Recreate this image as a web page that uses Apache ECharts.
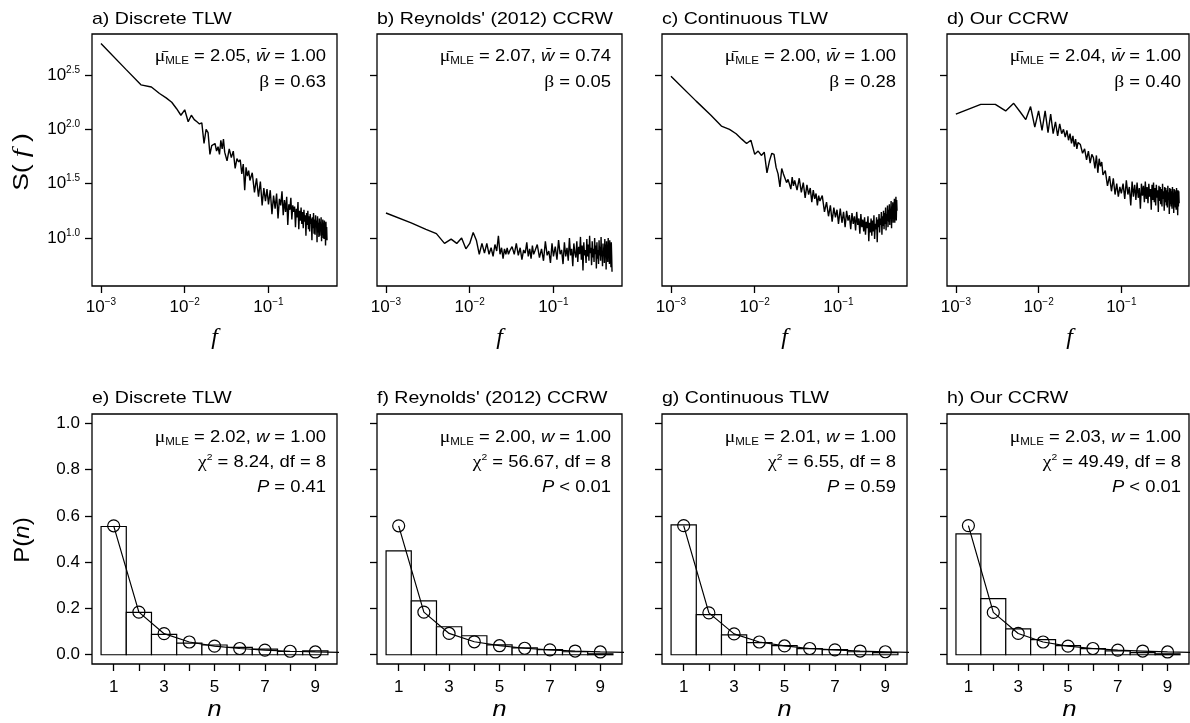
<!DOCTYPE html>
<html><head><meta charset="utf-8">
<script src="https://cdn.jsdelivr.net/npm/echarts@6/dist/echarts.min.js"></script>
<style>html,body{margin:0;padding:0;background:#fff}#c{width:1190px;height:723px}</style>
</head><body><div id="c"></div>
<script>
// ---------- DATA ----------
const titlesTop = ['a) Discrete TLW', "b) Reynolds' (2012) CCRW", 'c) Continuous TLW', 'd) Our CCRW'];
const titlesBottom = ['e) Discrete TLW', "f) Reynolds' (2012) CCRW", 'g) Continuous TLW', 'h) Our CCRW'];

// frequency index k (f = k / 1000)
const freqK = [1,2,3,4,5,6,7,8,9,10,11,12,13,14,15,16,17,18,19,20,21,22,23,24,25,26,27,28,29,30,
32,34,36,38,40,42,44,46,48,50,52,54,56,58,60,
64,68,72,76,80,84,88,92,96,100,
105,110,115,120,125,130,135,140,145,150,
155,160,165,170,175,180,185,190,195,200,
205,210,215,220,225,230,235,240,245,250,
255,260,265,270,275,280,285,290,295,300,
305,310,315,320,325,330,335,340,345,350,
355,360,365,370,375,380,385,390,395,400,
405,410,415,420,425,430,435,440,445,450,
455,460,465,470,475,480,485,490,495,500];

// log10 S(f) for each top panel
const logS_a = [2.79,2.55,2.41,2.39,2.33,2.29,2.25,2.19,2.13,2.18,2.07,2.13,2.09,2.07,2.05,2.06,1.87,2.00,1.97,1.77,1.85,1.84,1.87,1.80,1.84,1.77,1.90,1.82,1.91,1.79,
1.71,1.82,1.74,1.80,1.64,1.73,1.70,1.72,1.59,1.68,1.44,1.65,1.57,1.62,1.53,
1.60,1.42,1.55,1.38,1.52,1.30,1.46,1.34,1.45,1.31,
1.44,1.22,1.39,1.27,1.41,1.18,1.36,1.30,1.43,1.21,
1.35,1.24,1.38,1.12,1.31,1.26,1.37,1.17,1.30,1.24,
1.29,1.10,1.27,1.19,1.33,1.08,1.25,1.16,1.28,1.13,
1.24,1.09,1.26,1.15,1.21,1.02,1.23,1.12,1.25,1.08,
1.20,1.06,1.22,1.13,1.18,0.98,1.19,1.09,1.23,1.04,
1.17,1.03,1.21,1.10,1.16,0.96,1.20,1.05,1.14,1.01,
1.18,1.02,1.15,1.07,1.19,0.97,1.13,1.04,1.17,1.00,
1.14,0.99,1.16,1.04,1.12,0.93,1.15,1.02,1.10,0.98];

const logS_b = [1.23,1.14,1.08,1.04,0.95,0.99,0.95,1.00,0.90,0.95,1.05,0.98,0.85,0.95,0.86,0.95,0.85,0.91,0.83,0.94,0.88,1.02,0.85,0.91,0.81,0.90,0.85,0.91,0.85,0.88,
0.92,0.85,0.95,0.84,0.91,0.80,0.89,0.86,0.96,0.83,0.90,0.81,0.93,0.85,0.88,
0.94,0.82,0.90,0.79,0.97,0.84,0.88,0.77,0.95,0.83,
0.92,0.80,0.98,0.85,0.89,0.76,0.96,0.83,0.91,0.79,
1.00,0.84,0.90,0.74,0.95,0.86,0.82,0.97,0.78,0.92,
0.85,1.01,0.80,0.93,0.70,0.96,0.84,0.89,0.77,0.99,
0.83,0.94,0.79,1.02,0.86,0.91,0.75,0.97,0.82,0.90,
0.78,1.00,0.85,0.93,0.72,0.96,0.81,0.89,0.76,0.98,
0.84,0.92,0.79,1.01,0.83,0.88,0.74,0.95,0.86,0.91,
0.77,0.99,0.82,0.94,0.71,0.97,0.85,0.90,0.78,1.00,
0.83,0.93,0.76,0.98,0.80,0.92,0.73,0.96,0.84,0.69];

const logS_c = [2.49,2.26,2.13,2.03,2.00,1.96,1.91,1.87,1.90,1.77,1.80,1.76,1.79,1.60,1.71,1.78,1.77,1.65,1.59,1.47,1.64,1.59,1.60,1.51,1.54,1.53,1.45,1.56,1.48,1.53,
1.44,1.55,1.42,1.51,1.37,1.49,1.40,1.46,1.33,1.44,1.36,1.41,1.30,1.39,1.34,
1.39,1.24,1.33,1.20,1.30,1.15,1.28,1.19,1.26,1.13,
1.27,1.14,1.24,1.10,1.25,1.16,1.21,1.08,1.23,1.13,
1.20,1.07,1.24,1.12,1.18,1.04,1.22,1.10,1.17,1.06,
1.19,1.03,1.15,1.09,1.20,0.97,1.14,1.05,1.18,1.02,
1.16,1.06,1.21,0.99,1.13,1.08,1.19,0.96,1.17,1.10,
1.22,1.05,1.18,1.12,1.24,1.03,1.20,1.11,1.25,1.08,
1.23,1.13,1.28,1.07,1.22,1.16,1.30,1.10,1.26,1.15,
1.31,1.12,1.27,1.19,1.34,1.09,1.29,1.18,1.33,1.14,
1.30,1.21,1.36,1.14,1.32,1.23,1.38,1.16,1.35,1.25];

const logS_d = [2.14,2.23,2.23,2.17,2.24,2.16,2.09,2.21,2.02,2.17,1.99,2.17,1.97,2.14,1.96,2.07,1.94,2.05,1.96,2.00,1.93,1.99,1.90,1.96,1.87,1.94,1.84,1.91,1.82,1.88,
1.86,1.78,1.82,1.72,1.80,1.69,1.77,1.74,1.64,1.76,1.60,1.73,1.66,1.70,1.58,
1.62,1.48,1.57,1.43,1.55,1.40,1.50,1.38,1.47,1.41,
1.50,1.36,1.53,1.40,1.47,1.30,1.52,1.38,1.49,1.35,
1.51,1.37,1.46,1.27,1.50,1.39,1.48,1.33,1.52,1.36,
1.47,1.32,1.50,1.38,1.45,1.26,1.49,1.35,1.51,1.33,
1.46,1.30,1.49,1.37,1.44,1.24,1.48,1.34,1.47,1.31,
1.45,1.29,1.50,1.36,1.43,1.25,1.47,1.33,1.46,1.30,
1.44,1.28,1.48,1.35,1.42,1.22,1.46,1.31,1.45,1.29,
1.43,1.27,1.47,1.34,1.41,1.23,1.45,1.30,1.44,1.28,
1.42,1.26,1.46,1.33,1.40,1.21,1.44,1.29,1.43,1.32];

const spectra = [logS_a, logS_b, logS_c, logS_d];

// tick labels (log10 units)
const fTicks = [-3, -2, -1];
const sTicks = [1.0, 1.5, 2.0, 2.5];
const nTicks = [1,2,3,4,5,6,7,8,9];
const nLabels = [1,3,5,7,9];
const pTicks = [0, 0.2, 0.4, 0.6, 0.8, 1.0];

// bottom panels
const nVals = [1,2,3,4,5,6,7,8,9,10];
const obs_e = [0.554,0.183,0.088,0.050,0.042,0.032,0.024,0.014,0.017];
const obs_f = [0.449,0.233,0.121,0.082,0.043,0.030,0.022,0.013,0.004];
const obs_g = [0.561,0.173,0.086,0.052,0.039,0.026,0.022,0.013,0.009];
const obs_h = [0.522,0.242,0.112,0.065,0.039,0.026,0.017,0.009,0.004];
const fit_e = [0.557,0.184,0.091,0.055,0.037,0.027,0.020,0.015,0.012,0.010];
const fit_f = [0.557,0.184,0.092,0.056,0.039,0.028,0.021,0.016,0.012,0.010];
const fit_g = [0.558,0.181,0.090,0.055,0.038,0.027,0.021,0.016,0.013,0.010];
const fit_h = [0.558,0.183,0.092,0.055,0.037,0.027,0.020,0.016,0.012,0.010];
const observed = [obs_e, obs_f, obs_g, obs_h];
const fitted = [fit_e, fit_f, fit_g, fit_h];

// annotations
const muBar = ['2.05', '2.07', '2.00', '2.04'];
const wBar = ['1.00', '0.74', '1.00', '1.00'];
const betas = ['0.63', '0.05', '0.28', '0.40'];
const muFit = ['2.02', '2.00', '2.01', '2.03'];
const wFit = ['1.00', '1.00', '1.00', '1.00'];
const chi2 = ['8.24', '56.67', '6.55', '49.49'];
const dfs = ['8', '8', '8', '8'];
const pText = ['= 0.41', '< 0.01', '= 0.59', '< 0.01'];

// ---------- LAYOUT / STYLE ----------
const SANS = 'Liberation Sans', SERIF = 'Liberation Serif';
const cols = [92, 377, 662, 947];
const widths = [245, 245, 245, 242];
const TOP1 = 34, H1 = 252, TOP2 = 414, H2 = 250;
const LW = 1.3;
const tickStyle = {show: true, inside: false, length: 7, lineStyle: {color: '#000', width: LW}};
const tickRich = {
  b: {fontFamily: SANS, fontSize: 17, lineHeight: 20, color: '#000'},
  s: {fontFamily: SANS, fontSize: 10, lineHeight: 13, verticalAlign: 'top', color: '#000'}
};
const annRich = {
  t: {fontFamily: SANS, fontSize: 16, lineHeight: 20, fill: '#000'},
  g: {fontFamily: SERIF, fontSize: 17, lineHeight: 20, fill: '#000'},
  it: {fontFamily: SANS, fontStyle: 'italic', fontSize: 16, lineHeight: 20, fill: '#000'},
  sub: {fontFamily: SANS, fontSize: 10, lineHeight: 2, verticalAlign: 'bottom', fill: '#000'},
  sup: {fontFamily: SANS, fontSize: 9, lineHeight: 14, verticalAlign: 'top', fill: '#000'}
};

const grids = [], xAxes = [], yAxes = [], series = [], graphics = [];

function txt(x, y, rich, text, align, scaleX, extra) {
  return Object.assign({type: 'text', x: x, y: y, scaleX: scaleX || 1, silent: true,
    style: {text: text, rich: rich, align: align, textAlign: align, verticalAlign: 'middle', textVerticalAlign: 'middle',
      fontFamily: SANS, fontSize: 16, fill: '#000'}}, extra || {});
}

for (let c = 0; c < 4; c++) {
  // ----- top row -----
  let gi = grids.length;
  grids.push({left: cols[c], top: TOP1, width: widths[c], height: H1, show: true, borderColor: '#000', borderWidth: LW,
    backgroundColor: 'transparent', containLabel: false, outerBoundsMode: 'none'});
  xAxes.push({type: 'value', gridIndex: gi, min: -3.107, max: -0.182,
    axisLine: {show: false, onZero: false}, splitLine: {show: false},
    axisTick: Object.assign({customValues: fTicks}, tickStyle),
    axisLabel: {customValues: fTicks, margin: 11, formatter: v => '{b|10}{s|\u2212' + Math.abs(v) + '}', rich: tickRich}});
  yAxes.push({type: 'value', gridIndex: gi, min: 0.558, max: 2.878,
    axisLine: {show: false, onZero: false}, splitLine: {show: false},
    axisTick: Object.assign({customValues: sTicks}, tickStyle),
    axisLabel: {show: c === 0, customValues: sTicks, margin: 12, formatter: v => '{b|10}{s|' + v.toFixed(1) + '}', rich: tickRich}});
  series.push({type: 'line', xAxisIndex: gi, yAxisIndex: gi, silent: true, animation: false,
    data: freqK.map((k, j) => [Math.log10(k / 1000), spectra[c][j]]),
    showSymbol: false, symbol: 'none', lineStyle: {color: '#000', width: 1.4}});

  // ----- bottom row -----
  gi = grids.length;
  grids.push({left: cols[c], top: TOP2, width: widths[c], height: H2, show: true, borderColor: '#000', borderWidth: LW,
    backgroundColor: 'transparent', containLabel: false, outerBoundsMode: 'none'});
  xAxes.push({type: 'value', gridIndex: gi, min: 0.14, max: 9.86,
    axisLine: {show: false, onZero: false}, splitLine: {show: false},
    axisTick: Object.assign({customValues: nTicks}, tickStyle),
    axisLabel: {customValues: nLabels, margin: 13, fontFamily: SANS, fontSize: 17, lineHeight: 20, color: '#000'}});
  yAxes.push({type: 'value', gridIndex: gi, min: -0.04, max: 1.04,
    axisLine: {show: false, onZero: false}, splitLine: {show: false},
    axisTick: Object.assign({customValues: pTicks}, tickStyle),
    axisLabel: {show: c === 0, customValues: pTicks, margin: 12, fontFamily: SANS, fontSize: 17, color: '#000',
      formatter: v => v.toFixed(1)}});
  series.push({type: 'custom', xAxisIndex: gi, yAxisIndex: gi, silent: true, animation: false, clip: true,
    data: observed[c].map((v, j) => [nVals[j], v]), encode: {x: 0, y: 1},
    renderItem: (params, api) => {
      const n = api.value(0), v = api.value(1);
      const a = api.coord([n - 0.5, v]), b = api.coord([n + 0.5, 0]);
      return {type: 'rect', shape: {x: a[0], y: a[1], width: b[0] - a[0], height: b[1] - a[1]},
        style: {fill: '#fff', stroke: '#000', lineWidth: 1.2}};
    }});
  series.push({type: 'line', xAxisIndex: gi, yAxisIndex: gi, silent: true, animation: false, clip: true, z: 5,
    data: fitted[c].map((v, j) => j < 9 ? [nVals[j], v] : {value: [nVals[j], v], symbol: 'none'}),
    symbol: 'circle', symbolSize: 12, showSymbol: true, showAllSymbol: true,
    itemStyle: {color: 'transparent', borderColor: '#000', borderWidth: 1.2},
    lineStyle: {color: '#000', width: 1.2}});

  // ----- texts -----
  const right = cols[c] + 234;
  graphics.push(txt(cols[c], 19, {}, titlesTop[c], 'left', 1.15, {style: {text: titlesTop[c], fontFamily: SANS, fontSize: 17, fill: '#000', align: 'left', verticalAlign: 'middle'}}));
  graphics.push(txt(cols[c], 398, {}, titlesBottom[c], 'left', 1.15, {style: {text: titlesBottom[c], fontFamily: SANS, fontSize: 17, fill: '#000', align: 'left', verticalAlign: 'middle'}}));
  graphics.push(txt(right, 56.5, annRich, '{g|\u03bc\u0304}{sub|MLE}{t| = ' + muBar[c] + ', }{it|w\u0304}{t| = ' + wBar[c] + '}', 'right', 1.15));
  graphics.push(txt(right, 83, annRich, '{g|\u03b2}{t| = ' + betas[c] + '}', 'right', 1.15));
  graphics.push(txt(right, 437.5, annRich, '{g|\u03bc}{sub|MLE}{t| = ' + muFit[c] + ', }{it|w}{t| = ' + wFit[c] + '}', 'right', 1.15));
  graphics.push(txt(right, 463, annRich, '{g|\u03c7}{sup|2}{t| = ' + chi2[c] + ', df = ' + dfs[c] + '}', 'right', 1.15));
  graphics.push(txt(right, 487.5, annRich, '{it|P}{t| ' + pText[c] + '}', 'right', 1.15));
  // axis names under each column
  const cx = cols[c] + 122.5;
  graphics.push(txt(cx, 338, {}, 'f', 'center', 1, {style: {text: 'f', fontFamily: SERIF, fontStyle: 'italic', fontSize: 24, fill: '#000', align: 'center', verticalAlign: 'middle'}}));
  graphics.push(txt(cx, 710, {}, 'n', 'center', 1.15, {style: {text: 'n', fontFamily: SANS, fontStyle: 'italic', fontSize: 22, fill: '#000', align: 'center', verticalAlign: 'middle'}}));
}
const nameRich = {
  t: {fontFamily: SANS, fontSize: 22, lineHeight: 26, fill: '#000'},
  fi: {fontFamily: SERIF, fontStyle: 'italic', fontSize: 24, lineHeight: 26, fill: '#000'},
  it: {fontFamily: SANS, fontStyle: 'italic', fontSize: 22, lineHeight: 26, fill: '#000'}
};
graphics.push(txt(22, 162, nameRich, '{t|S(}{fi| f }{t|)}', 'center', 1.2, {rotation: Math.PI / 2}));
graphics.push(txt(23, 540, nameRich, '{t|P(}{it|n}{t|)}', 'center', 1.1, {rotation: Math.PI / 2}));

const chart = echarts.init(document.getElementById('c'), null, {renderer: 'canvas'});
chart.setOption({
  animation: false,
  backgroundColor: '#fff',
  grid: grids, xAxis: xAxes, yAxis: yAxes, series: series,
  graphic: {elements: graphics}
});
</script></body></html>
